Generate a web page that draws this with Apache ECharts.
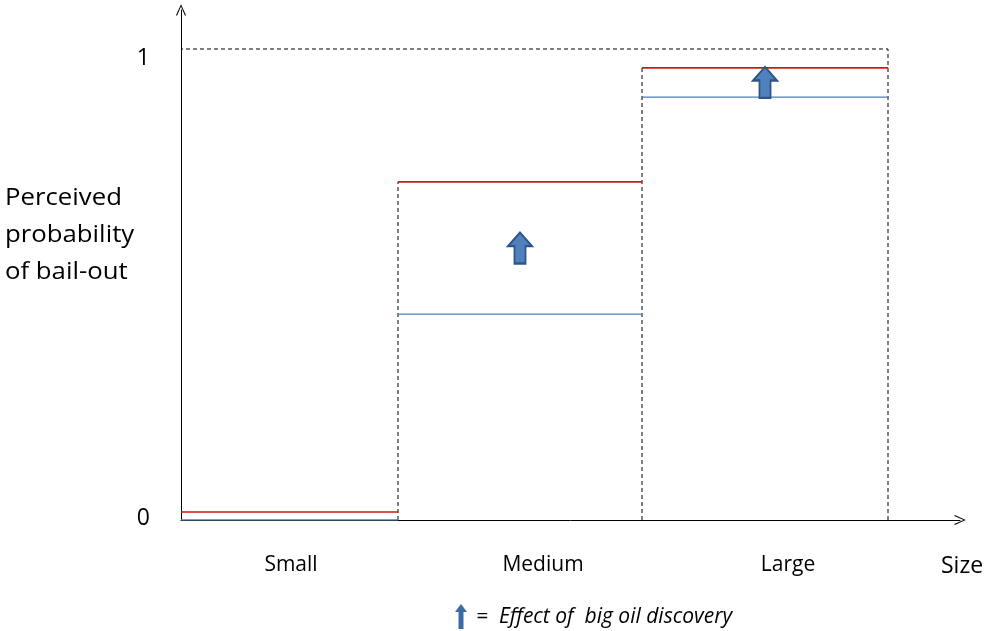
<!DOCTYPE html>
<html><head><meta charset="utf-8">
<script src="https://cdn.jsdelivr.net/npm/echarts@6/dist/echarts.min.js"></script>
<style>html,body{margin:0;padding:0;background:#fff}#c{width:988px;height:631px}</style>
</head><body><div id="c"></div>
<script>
// Size groups and their boundaries along the x axis (abstract size units)
var categories = ['Small', 'Medium', 'Large'];
var sizeBounds = [0, 217, 461, 707];
var labelAt = [110, 362, 607];
// Perceived probability of bail-out
var baseProb = [0.0, 0.437, 0.898];      // blue: before discovery
var afterProb = [0.017, 0.718, 0.96];    // red: after big oil discovery
var yTicks = [0, 1];

var FONT = '"Open Sans"';
function segs(vals) {
  var d = [];
  for (var i = 0; i < vals.length; i++) {
    if (i) d.push('-');
    d.push([sizeBounds[i], vals[i]], [sizeBounds[i + 1], vals[i]]);
  }
  return d;
}
var n = categories.length;
var dashed = [
  [sizeBounds[1], 0], [sizeBounds[1], afterProb[1]], '-',
  [sizeBounds[2], 0], [sizeBounds[2], afterProb[2]], '-',
  [sizeBounds[3], 0], [sizeBounds[3], 1], [sizeBounds[0], 1]
];
var arrows = [];
for (var i = 1; i < n; i++) {
  arrows.push([(sizeBounds[i] + sizeBounds[i + 1]) / 2, (baseProb[i] + afterProb[i]) / 2]);
}
var chevron = 'path://M5,0 L10,11 L9,11.6 L5,2.2 L1,11.6 L0,11 Z';
var arrowPath = 'path://M13,0 L26,14 L19,14 L19,32 L7,32 L7,14 L0,14 Z';

var chart = echarts.init(document.getElementById('c'));
chart.setOption({
  animation: false,
  backgroundColor: '#fff',
  grid: { left: 181, right: 28, top: 10, bottom: 111 },
  xAxis: {
    type: 'value', min: 0, max: 779,
    axisLine: { show: true, lineStyle: { color: '#000', width: 1 }, symbol: ['none', chevron], symbolSize: [10, 12] },
    axisTick: { show: false },
    splitLine: { show: false },
    axisLabel: {
      customValues: labelAt, margin: 35, color: '#000', fontFamily: FONT, fontSize: 21,
      formatter: function (v) { return categories[labelAt.indexOf(v)] || ''; }
    }
  },
  yAxis: {
    type: 'value', min: 0, max: 1.0828,
    axisLine: { show: true, lineStyle: { color: '#000', width: 1 }, symbol: ['none', chevron], symbolSize: [10, 12] },
    axisTick: { show: false },
    splitLine: { show: false },
    axisLabel: {
      customValues: yTicks, margin: 31, color: '#000', fontFamily: FONT, fontSize: 23,
      formatter: function (v) { return v === 1 ? '{one|1}' : '{zero|0}'; },
      rich: {
        one: { fontFamily: FONT, fontSize: 23, color: '#000', padding: [19, 0, 0, 0] },
        zero: { fontFamily: FONT, fontSize: 23, color: '#000', padding: [0, 0, 3, 0] }
      }
    }
  },
  series: [
    { type: 'line', data: dashed, symbol: 'none', connectNulls: false,
      lineStyle: { color: '#000', width: 1, type: [4, 3] }, z: 1 },
    { type: 'line', data: segs(baseProb), symbol: 'none', connectNulls: false,
      lineStyle: { color: '#4a7ebb', width: 1.3 }, z: 2 },
    { type: 'line', data: segs(afterProb), symbol: 'none', connectNulls: false,
      lineStyle: { color: '#d01818', width: 1.7 }, z: 3 },
    { type: 'scatter', data: arrows, symbol: arrowPath, symbolSize: [24, 31],
      itemStyle: { color: '#4f81bd', borderColor: '#2f5486', borderWidth: 2, opacity: 1 }, z: 4 }
  ],
  graphic: [
    { type: 'text', x: 5, y: 180, scaleX: 1.12, style: { text: 'Perceived\nprobability\nof bail-out', font: '23px ' + FONT, lineHeight: 37, fill: '#000' } },
    { type: 'text', x: 941, y: 555, style: { text: 'Size', font: '23px ' + FONT, fill: '#000' } },
    { type: 'polygon', shape: { points: [[461, 604], [467, 612], [463.5, 612], [463.5, 629], [458.5, 629], [458.5, 612], [455, 612]] },
      style: { fill: '#3d6aa6' } },
    { type: 'text', x: 476, y: 607, style: { text: '=  Effect of  big oil discovery', font: 'italic 21px ' + FONT, fill: '#000' } }
  ]
});
</script></body></html>
